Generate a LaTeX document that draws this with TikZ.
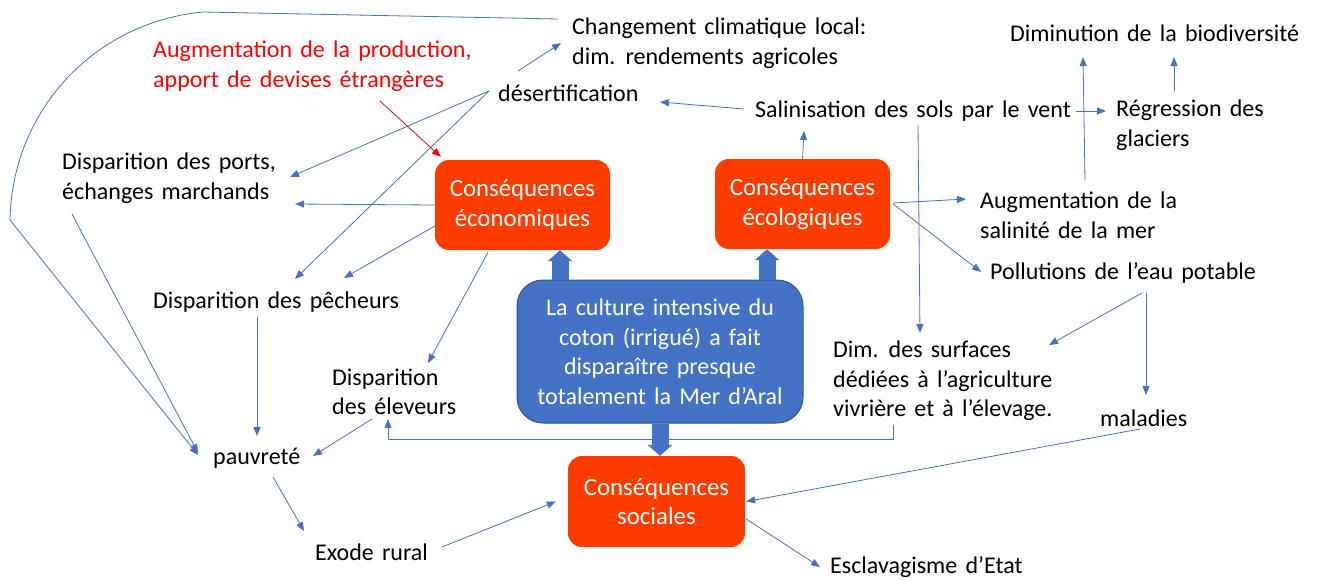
\documentclass[tikz,border=0pt]{standalone}
\usepackage{fontspec}
\setmainfont{Carlito}
\usetikzlibrary{arrows.meta,calc}
\definecolor{lnblue}{HTML}{4472C4}
\definecolor{boxred}{HTML}{FF3C00}
\definecolor{bordblue}{HTML}{2F528F}
\newcommand\diagfont{\fontsize{24}{29.5}\selectfont\spaceskip 8.2pt plus 2pt minus 2pt\relax}
\newcommand\boxfont{\fontsize{24.8}{29.5}\selectfont}
\begin{document}
\begin{tikzpicture}[x=1pt,y=-1pt,font=\diagfont,
  txt/.style={inner sep=0pt,anchor=west,align=left},
  cbox/.style={fill=boxred,rounded corners=14pt,minimum width=175pt,minimum height=90pt,text=white,align=center,inner sep=0pt,font=\boxfont},
  bbox/.style={fill=lnblue,draw=bordblue,line width=1pt,rounded corners=26pt,minimum width=286pt,minimum height=143pt,text=white,align=center,inner sep=0pt},
  arr/.style={draw=lnblue,line width=0.8pt,-{Triangle[length=9pt,width=7pt]}},
  redarr/.style={draw=red,line width=0.8pt,-{Triangle[length=9pt,width=7pt]}},
  blk/.style={draw=lnblue,line width=17pt,-{Triangle[length=11pt,width=24pt]}}]
\useasboundingbox (0,0) rectangle (1317,579);
% nodes
\node[txt] (chg) at (572,43) {Changement climatique local:\\dim. rendements agricoles};
\node[txt,text=red] (aug) at (153,66) {Augmentation de la production,\\apport de devises étrangères};
\node[txt] (desert) at (498,93) {désertification};
\node[txt] (biodiv) at (1010,33) {Diminution de la biodiversité};
\node[txt] (salin) at (755,111) {Salinisation des sols par le vent};
\node[txt] (regr) at (1116,125) {Régression des\\glaciers};
\node[txt] (ports) at (62,178) {Disparition des ports,\\échanges marchands};
\node[cbox] (eco) at (522.5,205) {Conséquences\\économiques};
\node[cbox] (ecol) at (802.5,204) {Conséquences\\écologiques};
\node[txt] (augsal) at (980,215) {Augmentation de la\\salinité de la mer};
\node[txt] (pollu) at (990,273) {Pollutions de l’eau potable};
\node[txt] (pech) at (153,302) {Disparition des pêcheurs};
\node[bbox] (blue) at (660,351.5) {La culture intensive du\\coton (irrigué) a fait\\disparaître presque\\totalement la Mer d’Aral};
\node[txt] (elev) at (332,392) {Disparition\\des éleveurs};
\node[txt] (dim) at (833,381) {Dim. des surfaces\\dédiées à l’agriculture\\vivrière et à l’élevage.};
\node[txt] (mal) at (1100,418) {maladies};
\node[txt] (pauv) at (213,458) {pauvreté};
\node[cbox,minimum width=177pt,minimum height=91pt] (soc) at (656.5,501.5) {Conséquences\\sociales};
\node[txt] (exode) at (315,552) {Exode rural};
\node[txt] (escl) at (830,567) {Esclavagisme d’Etat};
\coordinate (c1) at (203,12);
\coordinate (c2) at (10,220);
% connectors
\draw[arr] ($(chg.west)+(-14,-24)$) -- (c1) .. controls (95,22) and (12,110) .. (c2) -- ($(pauv.west)+(-15,-3)$);
\draw[arr] ($(ports.west)+(10,36)$) -- ($(pauv.west)+(-15,-5)$);
\draw[arr] ($(desert.west)+(20,-22)$) -- ($(chg.west)+(-11,0)$);
\draw[arr] ($(desert.west)+(-9,-2)$) -- ($(ports.west)+(228,-1)$);
\draw[arr] ($(desert.west)+(-9,-2)$) -- ($(pech.west)+(142,-23)$);
\draw[redarr] ($(aug.west)+(227,35)$) -- ($(eco.north west)+(6,-3)$);
\draw[arr] (eco.west) -- ($(ports.west)+(233,26)$);
\draw[arr] ($(eco.west)+(0,21)$) -- ($(pech.west)+(191,-24)$);
\draw[arr] ($(eco.south)+(-34.5,2)$) -- ($(elev.west)+(96,-29)$);
\draw[arr] (ecol.north) -- ($(salin.west)+(49,20)$);
\draw[arr] ($(salin.west)+(-11,-2)$) -- ($(desert.west)+(162,9)$);
\draw[arr] ($(salin.west)+(321,0)$) -- ($(regr.west)+(-10,-14)$);
\draw[arr] ($(salin.west)+(163,14)$) -- ($(dim.west)+(87,-48)$);
\draw[arr] ($(augsal.west)+(105,-35)$) -- ($(biodiv.west)+(73,24)$);
\draw[arr] ($(regr.west)+(58,-34)$) -- ($(biodiv.west)+(164,24)$);
\draw[arr] ($(ecol.east)+(3,-1)$) -- ($(augsal.west)+(-14,-16)$);
\draw[arr] ($(ecol.east)+(3,0)$) -- ($(pollu.west)+(-9,-1)$);
\draw[arr] ($(pollu.west)+(152,20)$) -- ($(dim.west)+(216,-36)$);
\draw[arr] ($(pollu.west)+(156,20)$) -- ($(mal.west)+(46,-23)$);
\draw[arr] ($(mal.west)+(40,11)$) -- ($(soc.east)+(1,0)$);
\draw[arr] ($(soc.east)+(1,17.5)$) -- ($(escl.west)+(-10,0)$);
\draw[arr] ($(dim.west)+(60,44)$) -- ++(0,14) -| ($(elev.west)+(56,27)$);
\draw[arr] ($(pech.west)+(104,15)$) -- ($(pauv.west)+(44,-22)$);
\draw[arr] ($(elev.west)+(40,27)$) -- ($(pauv.west)+(100,-2)$);
\draw[arr] ($(pauv.west)+(60,19)$) -- ($(exode.west)+(-11,-21)$);
\draw[arr] ($(exode.west)+(127,-5)$) -- ($(soc.west)+(-12,0)$);
% block arrows
\draw[blk] ($(blue.north)+(-100,0)$) -- ($(eco.south)+(37.5,0)$);
\draw[blk] ($(blue.north)+(107,0)$) -- ($(ecol.south)+(-35.5,0)$);
\draw[blk] (blue.south) -- ($(soc.north)+(3.5,0)$);
\end{tikzpicture}
\end{document}
